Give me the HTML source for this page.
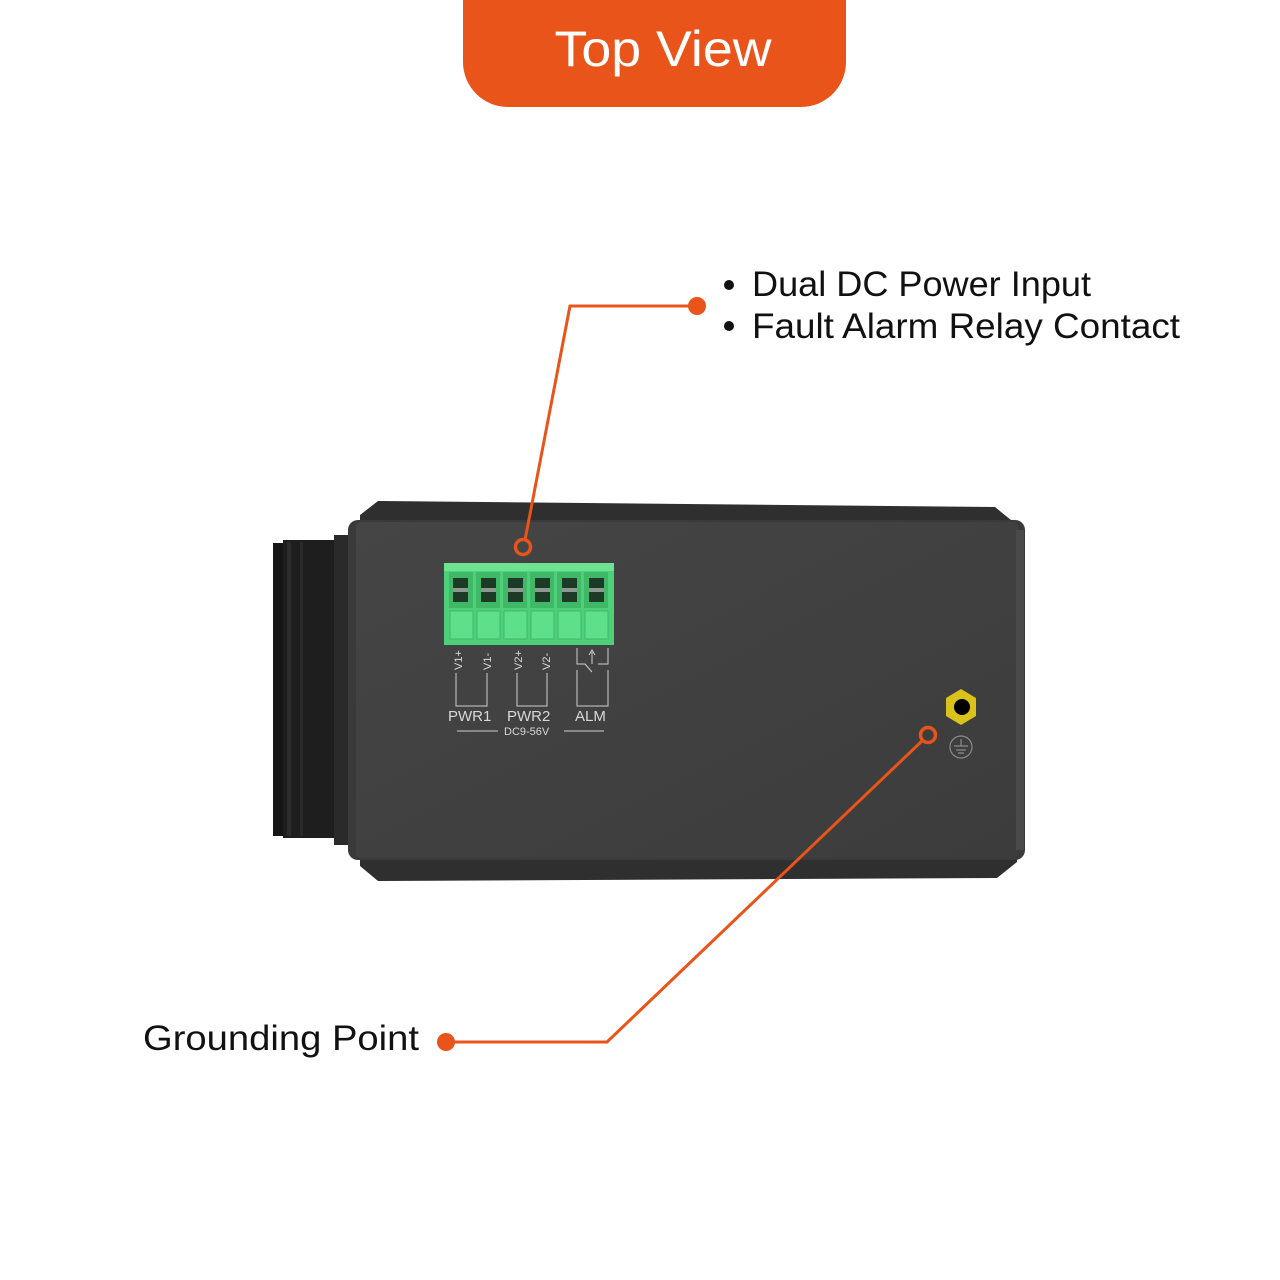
<!DOCTYPE html>
<html><head><meta charset="utf-8"><style>
html,body{margin:0;padding:0;background:#fff;width:1280px;height:1280px;overflow:hidden}
svg{display:block}
text{font-family:"Liberation Sans",sans-serif}
</style></head><body>
<svg width="1280" height="1280" viewBox="0 0 1280 1280" xmlns="http://www.w3.org/2000/svg">
<defs>
<linearGradient id="face" x1="0" y1="0" x2="1" y2="1">
<stop offset="0" stop-color="#454545"/><stop offset="1" stop-color="#3c3c3c"/>
</linearGradient>
</defs>
<!-- header -->
<path d="M463 0 H846 V62 A45 45 0 0 1 801 107 H508 A45 45 0 0 1 463 62 Z" fill="#E8541A"/>
<text x="663" y="66" font-size="50" fill="#fff" text-anchor="middle" textLength="217" lengthAdjust="spacingAndGlyphs">Top View</text>

<!-- DIN rail -->
<rect x="273" y="543" width="12" height="293" fill="#161616"/>
<rect x="283" y="540" width="52" height="298" fill="#1e1e1e"/>
<rect x="287" y="542" width="4" height="294" fill="#2c2c2c"/>
<rect x="300" y="542" width="3" height="294" fill="#2a2a2a"/>
<rect x="334" y="535" width="16" height="310" fill="#2a2a2a"/>

<!-- body -->
<polygon points="378,501 995,507 1017,525 1017,862 997,878 378,881 360,866 360,515" fill="#2f2f2f"/>
<rect x="348" y="520" width="677" height="340" rx="10" fill="#3a3a3a"/>
<rect x="356" y="522" width="662" height="336" rx="4" fill="url(#face)"/>
<rect x="1016" y="530" width="8" height="320" fill="#4a4a4a"/>

<!-- terminal block -->
<rect x="444" y="563" width="170" height="82" fill="#4fcf7a"/>
<rect x="444" y="563" width="170" height="8" fill="#6ee394"/>
<g fill="#3fb868">
<rect x="449" y="572" width="24" height="36"/><rect x="476" y="572" width="24" height="36"/><rect x="503" y="572" width="24" height="36"/>
<rect x="530" y="572" width="24" height="36"/><rect x="557" y="572" width="24" height="36"/><rect x="584" y="572" width="24" height="36"/>
</g>
<g fill="#1d3a26">
<rect x="453" y="578" width="15" height="24"/><rect x="481" y="578" width="15" height="24"/><rect x="508" y="578" width="15" height="24"/>
<rect x="535" y="578" width="15" height="24"/><rect x="562" y="578" width="15" height="24"/><rect x="589" y="578" width="15" height="24"/>
</g>
<g fill="#8a9a8e">
<rect x="453" y="588" width="15" height="4"/><rect x="481" y="588" width="15" height="4"/><rect x="508" y="588" width="15" height="4"/>
<rect x="535" y="588" width="15" height="4"/><rect x="562" y="588" width="15" height="4"/><rect x="589" y="588" width="15" height="4"/>
</g>
<g fill="#5ee08a" stroke="#3fb868" stroke-width="1">
<rect x="450" y="611" width="23" height="28"/><rect x="477" y="611" width="23" height="28"/><rect x="504" y="611" width="23" height="28"/>
<rect x="531" y="611" width="23" height="28"/><rect x="558" y="611" width="23" height="28"/><rect x="585" y="611" width="23" height="28"/>
</g>

<!-- labels -->
<g fill="#d8d8d8" font-size="11">
<text transform="translate(462,670) rotate(-90)">V1+</text>
<text transform="translate(491,670) rotate(-90)">V1-</text>
<text transform="translate(522,670) rotate(-90)">V2+</text>
<text transform="translate(550,670) rotate(-90)">V2-</text>
<text x="448" y="721" font-size="15">PWR1</text>
<text x="507" y="721" font-size="15">PWR2</text>
<text x="575" y="721" font-size="15">ALM</text>
<text x="504" y="735" font-size="11">DC9-56V</text>
</g>
<g stroke="#cfcfcf" stroke-width="1" fill="none">
<path d="M456 673 V706 H487 V673"/>
<path d="M517 673 V706 H547 V673"/>
<path d="M577 670 V706 H608 V670"/>
<path d="M577 648 V664 H585 L592 672"/>
<path d="M592 664 V652 M589 655 L592 650 L595 655 M598 664 H608 V648"/>
<path d="M457 731 H498 M564 731 H604"/>
</g>

<!-- grounding nut -->
<polygon points="961,689 976,698 976,716 961,725 946,716 946,698" fill="#d9c21a"/>
<circle cx="962" cy="707" r="8" fill="#000"/>
<circle cx="961" cy="747" r="11" fill="none" stroke="#8a8a8a" stroke-width="1.2"/>
<path d="M961 739 V746 M954 746 H968 M956 750 H966 M958 753 H964" stroke="#8a8a8a" stroke-width="1.2"/>

<!-- leaders -->
<g stroke="#E8541A" stroke-width="3" fill="none">
<path d="M697 306 H570 L525 540"/>
<circle cx="523" cy="547" r="7.5" stroke-width="3.5"/>
<path d="M446 1042 H607 L923 740"/>
<circle cx="928" cy="735" r="7.5" stroke-width="3.5"/>
</g>
<circle cx="697" cy="306" r="9" fill="#E8541A"/>
<circle cx="446" cy="1042" r="9" fill="#E8541A"/>

<!-- text -->
<circle cx="729" cy="285" r="5" fill="#111"/>
<circle cx="729" cy="326" r="5" fill="#111"/>
<text x="752" y="296" font-size="35" fill="#111" textLength="339" lengthAdjust="spacingAndGlyphs">Dual DC Power Input</text>
<text x="752" y="338" font-size="35" fill="#111" textLength="428" lengthAdjust="spacingAndGlyphs">Fault Alarm Relay Contact</text>
<text x="143" y="1050" font-size="35" fill="#111" textLength="276" lengthAdjust="spacingAndGlyphs">Grounding Point</text>
</svg>
</body></html>
